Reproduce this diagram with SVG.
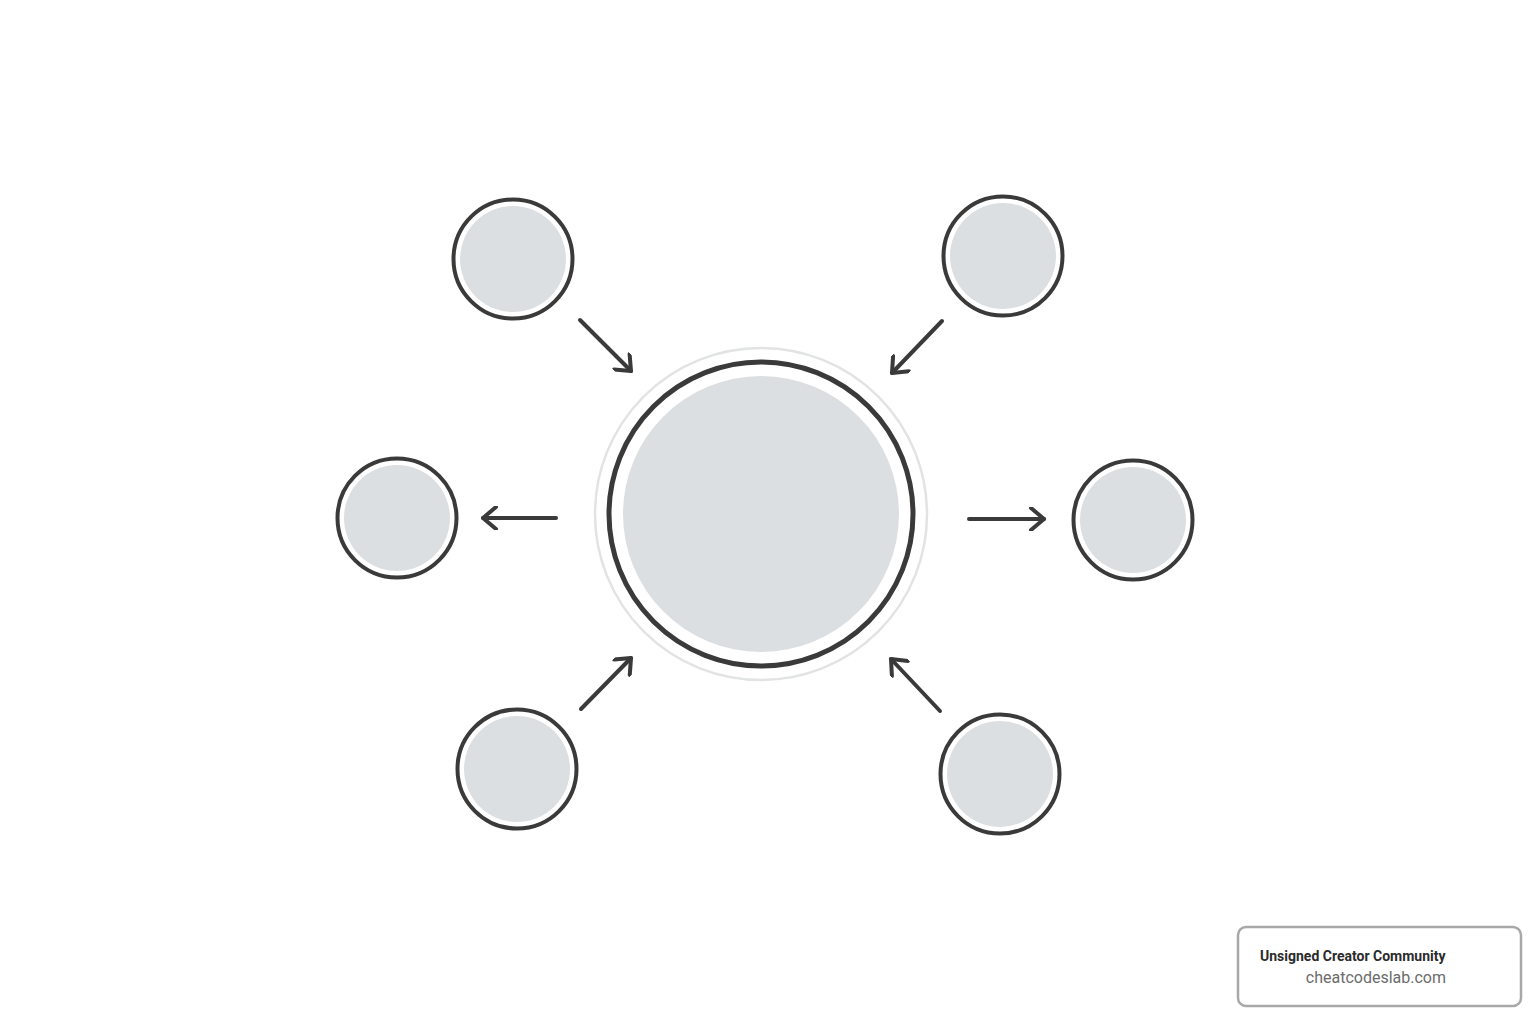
<svg xmlns="http://www.w3.org/2000/svg" width="1536" height="1024" viewBox="0 0 1536 1024">
<style>
.ring{fill:#ffffff;stroke:#3a3a3a;stroke-width:4}
.fill{fill:#dcdfe1}
.conn{fill:none;stroke:#3a3a3a;stroke-width:4;stroke-linecap:round}
.t1{font-family:Roboto,"Liberation Sans",sans-serif;font-size:14px;font-weight:bold;fill:#2b2b2b}
.t2{font-family:Roboto,"Liberation Sans",sans-serif;font-size:16px;fill:#6b6b6b}
</style>
<defs>
<marker id="ah" viewBox="-16 -12 20 24" refX="0" refY="0" markerWidth="20" markerHeight="24" markerUnits="userSpaceOnUse" orient="auto">
<path d="M-13,-11 L0,0 L-13,11" fill="none" stroke="#3a3a3a" stroke-width="4" stroke-linecap="round" stroke-linejoin="round"/>
</marker>
</defs>
<rect width="1536" height="1024" fill="#ffffff"/>
<g id="center">
<circle cx="761" cy="514" r="166" fill="#ffffff" stroke="#e2e4e4" stroke-width="2.5"/>
<circle cx="761" cy="514" r="152" fill="#ffffff" stroke="#3a3a3a" stroke-width="5"/>
<circle class="fill" cx="761" cy="514" r="138"/>
</g>
<g id="node-tl"><circle class="ring" cx="513" cy="259" r="59.5"/><circle class="fill" cx="513" cy="259" r="53"/></g>
<g id="node-tr"><circle class="ring" cx="1003" cy="256" r="59.5"/><circle class="fill" cx="1003" cy="256" r="53"/></g>
<g id="node-l"><circle class="ring" cx="397" cy="518" r="59.5"/><circle class="fill" cx="397" cy="518" r="53"/></g>
<g id="node-r"><circle class="ring" cx="1133" cy="520" r="59.5"/><circle class="fill" cx="1133" cy="520" r="53"/></g>
<g id="node-bl"><circle class="ring" cx="517" cy="769" r="59.5"/><circle class="fill" cx="517" cy="769" r="53"/></g>
<g id="node-br"><circle class="ring" cx="1000" cy="774" r="59.5"/><circle class="fill" cx="1000" cy="774" r="53"/></g>
<g id="connectors">
<line class="conn" x1="580" y1="320" x2="631" y2="371" marker-end="url(#ah)"/>
<line class="conn" x1="942" y1="321" x2="892" y2="373" marker-end="url(#ah)"/>
<line class="conn" x1="556" y1="518" x2="483" y2="518" marker-end="url(#ah)"/>
<line class="conn" x1="969" y1="519" x2="1044" y2="519" marker-end="url(#ah)"/>
<line class="conn" x1="581" y1="709" x2="631" y2="658" marker-end="url(#ah)"/>
<line class="conn" x1="940" y1="711" x2="891" y2="659" marker-end="url(#ah)"/>
</g>
<g id="badge">
<rect x="1238" y="927" width="283" height="79" rx="8" fill="#ffffff" stroke="#a8a8a8" stroke-width="2.5"/>
<text class="t1" x="1260" y="961">Unsigned Creator Community</text>
<text class="t2" x="1446" y="983" text-anchor="end">cheatcodeslab.com</text>
</g>
</svg>
